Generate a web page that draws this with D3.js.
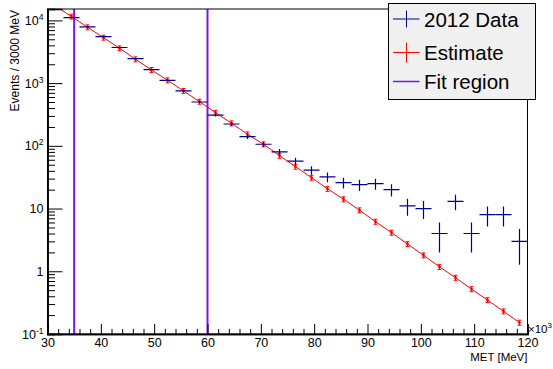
<!DOCTYPE html>
<html><head><meta charset="utf-8">
<script src="https://cdn.jsdelivr.net/npm/d3@7"></script>
<style>
html,body{margin:0;padding:0;background:#fff;}
svg{display:block;font-family:"Liberation Sans",Arial,Helvetica,sans-serif;}
</style></head><body>
<svg id="chart" width="553" height="369"></svg>
<script>
// MET bins of 3000 MeV (axis in units of 10^3 MeV)
const binCenters = [31.5, 34.5, 37.5, 40.5, 43.5, 46.5, 49.5, 52.5, 55.5, 58.5,
                    61.5, 64.5, 67.5, 70.5, 73.5, 76.5, 79.5, 82.5, 85.5, 88.5,
                    91.5, 94.5, 97.5, 100.5, 103.5, 106.5, 109.5, 112.5, 115.5, 118.5];
const binWidth = 3;

// 2012 data event counts (first bin is above the plotted range)
const dataCounts = [null, 11100, 7900, 5500, 3700, 2450, 1640, 1110, 750, 500,
                    310, 223, 140, 106, 80, 57, 41, 32, 26, 24,
                    25, 20, 11, 10, 4, 13, 4, 8, 8, 3];

// Background estimate and its uncertainty
const estimate = [17000, 11510, 7780, 5320, 3600, 2404, 1626, 1112, 752, 507,
                  338, 229, 153, 106, 69.8, 46.6, 31.1, 20.7, 14.1, 9.40,
                  6.18, 4.13, 2.72, 1.80, 1.18, 0.79, 0.52, 0.348, 0.230, 0.152];
const estimateErr = [1500, 1000, 700, 480, 320, 215, 145, 100, 68, 46,
                     30, 21, 14, 9.5, 6.3, 4.2, 2.8, 1.9, 1.3, 0.85,
                     0.56, 0.37, 0.25, 0.16, 0.11, 0.071, 0.047, 0.031, 0.021, 0.014];

// Fit window edges
const fitRegion = [35, 60];

// Axis ticks
const xMajorTicks = [30, 40, 50, 60, 70, 80, 90, 100, 110, 120];
const yDecades = [-1, 0, 1, 2, 3, 4];
const legendLabels = ["2012 Data", "Estimate", "Fit region"];

const colData = "#00008f", colEst = "#ff0000", colFit = "#8010f0";

const svg = d3.select("#chart");
const L = 47.5, R = 527.5, T = 9, B = 334;

const x = d3.scaleLinear().domain([30, 120]).range([L, R]);
const y = d3.scaleLog().domain([0.1, 15200]).range([B, T]);

svg.append("defs").append("clipPath").attr("id", "plotClip")
  .append("rect").attr("x", L).attr("y", T).attr("width", R - L).attr("height", B - T);

const plot = svg.append("g").attr("clip-path", "url(#plotClip)");

// Fit region boundaries
plot.selectAll("line.fit").data(fitRegion).join("line")
  .attr("class", "fit")
  .attr("x1", d => x(d)).attr("x2", d => x(d))
  .attr("y1", T).attr("y2", B)
  .attr("stroke", colFit).attr("stroke-width", 2);

// Estimate: line through bin centres with small error bars
const estPts = binCenters.map((c, i) => ({c, v: estimate[i], e: estimateErr[i]}));
plot.append("path")
  .attr("d", d3.line().x(d => x(d.c)).y(d => y(d.v))(estPts))
  .attr("fill", "none").attr("stroke", colEst).attr("stroke-width", 1);
const estG = plot.selectAll("g.est").data(estPts).join("g").attr("class", "est");
estG.append("line")
  .attr("x1", d => x(d.c)).attr("x2", d => x(d.c))
  .attr("y1", d => y(d.v + d.e)).attr("y2", d => y(d.v - d.e))
  .attr("stroke", colEst).attr("stroke-width", 1);
estG.append("line")
  .attr("x1", d => x(d.c) - 2).attr("x2", d => x(d.c) + 2)
  .attr("y1", d => y(d.v + d.e)).attr("y2", d => y(d.v + d.e))
  .attr("stroke", colEst).attr("stroke-width", 1);
estG.append("line")
  .attr("x1", d => x(d.c) - 2).attr("x2", d => x(d.c) + 2)
  .attr("y1", d => y(d.v - d.e)).attr("y2", d => y(d.v - d.e))
  .attr("stroke", colEst).attr("stroke-width", 1);
estG.append("rect")
  .attr("x", d => x(d.c) - 1.25).attr("y", d => y(d.v) - 1.25)
  .attr("width", 2.5).attr("height", 2.5).attr("fill", colEst);

// Data: horizontal bar over the bin, vertical Poisson error
const dataPts = binCenters.map((c, i) => ({c, v: dataCounts[i]})).filter(d => d.v != null);
const dG = plot.selectAll("g.data").data(dataPts).join("g").attr("class", "data");
dG.append("line")
  .attr("x1", d => x(d.c - binWidth / 2)).attr("x2", d => x(d.c + binWidth / 2))
  .attr("y1", d => y(d.v)).attr("y2", d => y(d.v))
  .attr("stroke", colData).attr("stroke-width", 1.2);
dG.append("line")
  .attr("x1", d => x(d.c)).attr("x2", d => x(d.c))
  .attr("y1", d => y(d.v + Math.sqrt(d.v))).attr("y2", d => y(Math.max(d.v - Math.sqrt(d.v), 0.1)))
  .attr("stroke", colData).attr("stroke-width", 1.2);

// Frame
svg.append("rect").attr("x", L).attr("y", T).attr("width", R - L).attr("height", B - T)
  .attr("fill", "none").attr("stroke", "#000").attr("stroke-width", 1);

// X axis (ticks drawn inward)
const xMinor = d3.range(30, 120.001, 2).filter(v => v % 10 !== 0);
const xAxisMinor = d3.axisBottom(x).tickValues(xMinor).tickSize(-5).tickFormat("");
const xAxis = d3.axisBottom(x).tickValues(xMajorTicks).tickSize(-10).tickPadding(4).tickFormat(d3.format("d"));
const gxm = svg.append("g").attr("transform", `translate(0,${B})`).call(xAxisMinor);
const gx = svg.append("g").attr("transform", `translate(0,${B})`).call(xAxis);
[gx, gxm].forEach(g => {
  g.select(".domain").attr("stroke", "#000").attr("stroke-width", 1.5);
  g.selectAll(".tick line").attr("stroke", "#000");
});
gx.selectAll(".tick text").attr("font-size", 12.5).attr("fill", "#000")
  .attr("dy", null).attr("y", 13);

// Y axis (log, ticks drawn inward)
const yMinor = [];
yDecades.forEach(k => { for (let m = 2; m <= 9; m++) { const v = m * Math.pow(10, k); if (v <= 15200) yMinor.push(v); } });
const yMajor = yDecades.map(k => Math.pow(10, k));
const gym = svg.append("g").attr("transform", `translate(${L},0)`)
  .call(d3.axisLeft(y).tickValues(yMinor).tickSize(-7.5).tickFormat(""));
const gy = svg.append("g").attr("transform", `translate(${L},0)`)
  .call(d3.axisLeft(y).tickValues(yMajor).tickSize(-15).tickFormat(""));
[gy, gym].forEach(g => {
  g.select(".domain").attr("stroke", "#000").attr("stroke-width", 1.5);
  g.selectAll(".tick line").attr("stroke", "#000");
});

// Decade labels: 1 and 10 written plainly, others as powers of ten
const yLab = svg.append("g").attr("font-size", 12.5).attr("fill", "#000").attr("text-anchor", "end");
yDecades.forEach(k => {
  const t = yLab.append("text").attr("x", 43.5).attr("y", y(Math.pow(10, k)) + 4.5);
  if (k === 0) t.text("1");
  else if (k === 1) t.text("10");
  else {
    t.append("tspan").text("10");
    t.append("tspan").attr("font-size", 8.5).attr("dy", -5).text(String(k));
  }
});

// Axis scale factor and titles
const sf = svg.append("text").attr("x", R + 0.5).attr("y", 333).attr("font-size", 11.5).attr("fill", "#000");
sf.append("tspan").text("\u00d710");
sf.append("tspan").attr("font-size", 8).attr("dy", -5).text("3");

svg.append("text").attr("x", R).attr("y", 361).attr("text-anchor", "end")
  .attr("font-size", 11.5).attr("fill", "#000").text("MET [MeV]");
svg.append("text").attr("transform", "translate(18.5,10) rotate(-90)")
  .attr("text-anchor", "end").attr("font-size", 12).attr("fill", "#000")
  .text("Events / 3000 MeV");

// Legend
const lg = svg.append("g");
lg.append("rect").attr("x", 388.5).attr("y", 3.5).attr("width", 147).attr("height", 96)
  .attr("fill", "#f0f0f0").attr("stroke", "#000").attr("stroke-width", 1);
const rows = [
  {label: legendLabels[0], col: colData, cross: true, cy: 19, vh: 8.5, base: 27},
  {label: legendLabels[1], col: colEst, cross: true, cy: 52.5, vh: 10, base: 60},
  {label: legendLabels[2], col: colFit, cross: false, cy: 81.5, vh: 0, base: 88.5}
];
rows.forEach(r => {
  lg.append("line").attr("x1", 393).attr("x2", 419.5).attr("y1", r.cy).attr("y2", r.cy)
    .attr("stroke", r.col).attr("stroke-width", r.cross ? 1 : 1.5);
  if (r.cross) lg.append("line").attr("x1", 406.5).attr("x2", 406.5)
    .attr("y1", r.cy - r.vh).attr("y2", r.cy + r.vh).attr("stroke", r.col).attr("stroke-width", 1);
  lg.append("text").attr("x", 424).attr("y", r.base).attr("font-size", 20.5)
    .attr("fill", "#000").text(r.label);
});
</script>
</body></html>
